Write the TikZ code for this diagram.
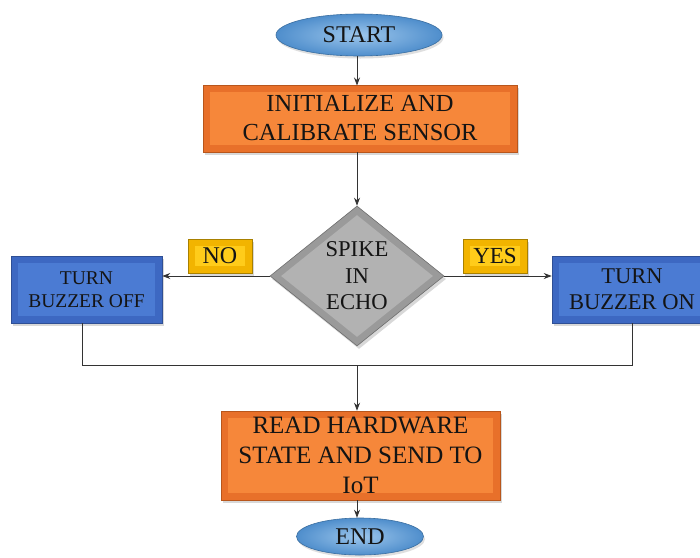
\documentclass[tikz,border=0pt]{standalone}
\usepackage{fontspec}
\setmainfont{Liberation Serif}
\usetikzlibrary{shapes.geometric,shadows,arrows.meta}
\definecolor{orA}{HTML}{E8702A}
\definecolor{orB}{HTML}{F6873A}
\definecolor{orD}{HTML}{B8561C}
\definecolor{blA}{HTML}{3D68C2}
\definecolor{blB}{HTML}{4B7BD3}
\definecolor{blD}{HTML}{2F4F95}
\definecolor{elIn}{HTML}{9CC6EC}
\definecolor{elOut}{HTML}{4F8ECC}
\definecolor{elD}{HTML}{3A6EA0}
\definecolor{grA}{HTML}{9A9A9A}
\definecolor{grB}{HTML}{B2B2B2}
\definecolor{grD}{HTML}{6E6E6E}
\definecolor{yeA}{HTML}{F2B400}
\definecolor{yeB}{HTML}{FFCC1A}
\definecolor{yeD}{HTML}{A88000}
\definecolor{lineC}{HTML}{333333}
\definecolor{txt}{HTML}{141414}
\tikzset{
  bevelbox/.style 2 args={rectangle, fill=#1, draw=#2, line width=0.6pt, text=txt,
    drop shadow={opacity=0.3, shadow xshift=2pt, shadow yshift=-3pt},
    align=center, inner sep=0pt},
  inset/.style={path picture={\fill[#1] ([shift={(7pt,-7pt)}]path picture bounding box.north west) rectangle ([shift={(-7pt,7pt)}]path picture bounding box.south east);}},
  orangebox/.style={bevelbox={orA}{orD}, inset=orB},
  bluebox/.style={bevelbox={blA}{blD}, inset=blB},
  yellowbox/.style={bevelbox={yeA}{yeD}, inset={yeB}, minimum width=64pt, minimum height=34pt},
  term/.style={ellipse, inner color=elIn, outer color=elOut, draw=elD, line width=0.6pt, text=txt,
    drop shadow={opacity=0.25, shadow xshift=1.5pt, shadow yshift=-2.5pt}, inner sep=0pt},
  decision/.style={diamond, fill=grA, draw=grD, line width=0.6pt, align=center, inner sep=0pt, text=txt,
    shape aspect=1.24, minimum width=174pt, minimum height=140pt,
    drop shadow={opacity=0.3, shadow xshift=2pt, shadow yshift=-3pt},
    path picture={\fill[grB] ([yshift=-9pt]path picture bounding box.north) -- ([xshift=-11pt]path picture bounding box.east) -- ([yshift=9pt]path picture bounding box.south) -- ([xshift=11pt]path picture bounding box.west) -- cycle;}},
  arr/.style={draw=lineC, line width=0.8pt, -{Stealth[length=8pt,width=6pt]}},
  plain/.style={draw=lineC, line width=0.8pt}
}
\begin{document}
\begin{tikzpicture}[x=1pt,y=-1pt]
\useasboundingbox (0,0) rectangle (700,557);
\fill[white] (0,0) rectangle (700,557);
\node[term, minimum width=166pt, minimum height=42pt, font={\fontsize{24}{28}\selectfont}] (start) at (359,35) {START};
\node[orangebox, minimum width=314pt, minimum height=67pt, font={\fontsize{24.5}{29}\selectfont}] (init) at (360,118.5) {INITIALIZE AND\\CALIBRATE SENSOR};
\node[decision, font={\fontsize{22.6}{26.5}\selectfont}] (dec) at (357,276) {SPIKE\\IN\\ECHO};
\node[bluebox, minimum width=151pt, minimum height=67pt, font={\fontsize{19.5}{23}\selectfont}] (off) at (86.5,289.5) {TURN\\BUZZER OFF};
\node[bluebox, minimum width=160pt, minimum height=67pt, font={\fontsize{22.5}{26}\selectfont}] (on) at (632,289.5) {TURN\\BUZZER ON};
\node[yellowbox, font={\fontsize{24}{28}\selectfont}] (no) at (220,256) {NO};
\node[yellowbox, font={\fontsize{23}{27}\selectfont}] (yes) at (495,256) {YES};
\node[orangebox, minimum width=279pt, minimum height=89pt, font={\fontsize{25}{30}\selectfont}] (read) at (360.5,455.5) {READ HARDWARE\\STATE AND SEND TO\\IoT};
\node[term, minimum width=127pt, minimum height=37pt, font={\fontsize{24}{28}\selectfont}] (end) at (360,536.5) {END};
\coordinate (merge) at (357,365);
\draw[arr] (start.south -| 357,0) -- (357,85.5);
\draw[arr] (init.south -| 357,0) -- (dec.north);
\draw[arr] (dec.west) -- (off.east |- dec.west);
\draw[arr] (dec.east) -- (on.west |- dec.east);
\draw[plain] (off.south -| 82,0) -- (82,365) -- (632,365) -- (on.south -| 632,0);
\draw[arr] (merge) -- (read.north -| merge);
\draw[arr] (read.south -| 357,0) -- (end.north -| 357,0);
\end{tikzpicture}
\end{document}
